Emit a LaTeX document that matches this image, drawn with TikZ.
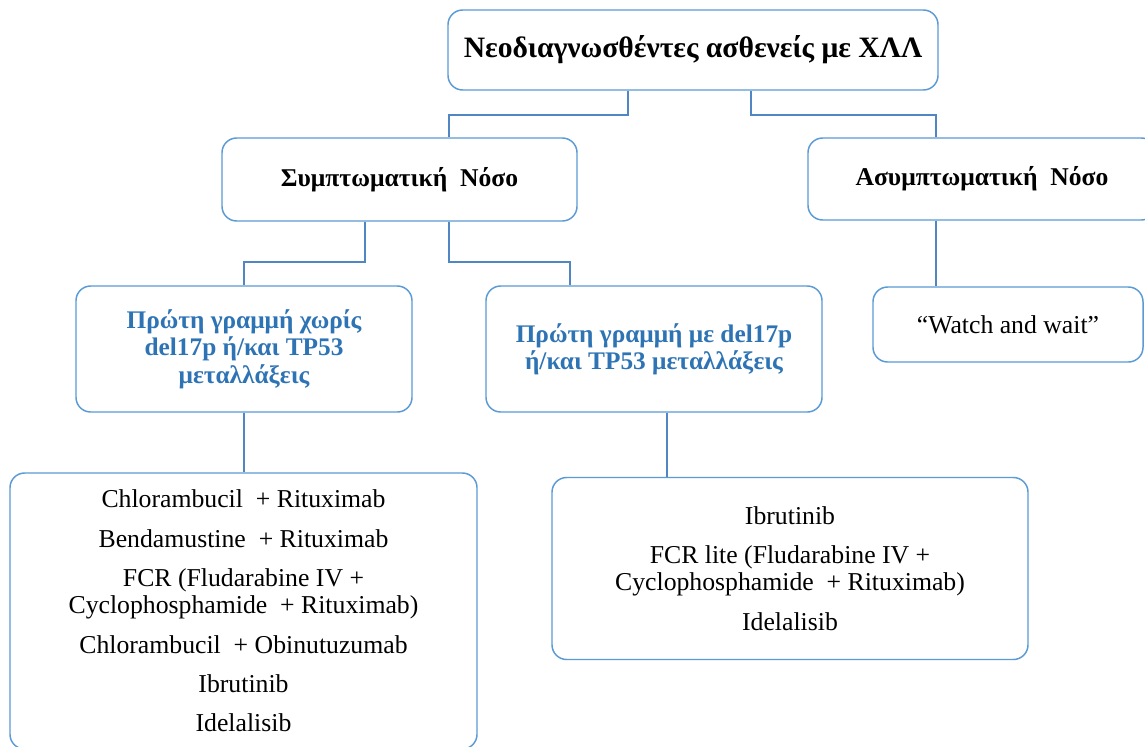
\documentclass[tikz,border=0pt]{standalone}
\usepackage{fontspec}
\setmainfont{Liberation Serif}
\definecolor{bord}{RGB}{91,155,213}
\definecolor{lnk}{RGB}{80,135,195}
\definecolor{btext}{RGB}{46,116,181}
\tikzset{
  box/.style={draw=bord, line width=1.1pt, rounded corners=11pt, fill=white, align=center, inner sep=0pt},
  conn/.style={draw=lnk, line width=1.1pt},
  head/.style={font=\bfseries\fontsize{22.2}{25}\selectfont},
  sub/.style={font=\bfseries\fontsize{19.2}{22}\selectfont},
  blue/.style={font=\bfseries\fontsize{19}{20.5}\selectfont, text=btext},
  plain/.style={font=\fontsize{19.3}{20.5}\selectfont}
}
\begin{document}
\begin{tikzpicture}[x=0.75pt,y=-0.75pt]
\clip (0,0) rectangle (1145,746);
\fill[white] (0,0) rectangle (1145,746);
\node[box, head, minimum width=367.5pt, minimum height=60pt] (top) at (693,50) {Νεοδιαγνωσθέντες ασθενείς με ΧΛΛ};
\node[box, sub, minimum width=266.25pt, minimum height=62.25pt] (symp) at (399.5,179.5) {Συμπτωματική\ \ Νόσο};
\node[box, sub, minimum width=261pt, minimum height=61.5pt] (asymp) at (982,179) {Ασυμπτωματική\ \ Νόσο};
\node[box, blue, minimum width=252pt, minimum height=94.5pt] (b4) at (244,349) {Πρώτη γραμμή χωρίς\\ del17p ή/και TP53\\ μεταλλάξεις};
\node[box, blue, minimum width=252pt, minimum height=94.5pt] (b5) at (654,349) {Πρώτη γραμμή με del17p\\ ή/και TP53 μεταλλάξεις};
\node[box, plain, minimum width=202.5pt, minimum height=56.25pt] (watch) at (1008,324.5) {“Watch and wait”};
\node[box, plain, minimum width=350.25pt, minimum height=207pt] (big) at (243.5,611) {Chlorambucil\ \ + Rituximab\\[9pt] Bendamustine\ \ + Rituximab\\[9pt] FCR (Fludarabine IV +\\ Cyclophosphamide\ \ + Rituximab)\\[9pt] Chlorambucil\ \ + Obinutuzumab\\[9pt] Ibrutinib\\[9pt] Idelalisib};
\node[box, plain, minimum width=357pt, minimum height=136.5pt] (lr) at (790,568.5) {Ibrutinib\\[9pt] FCR lite (Fludarabine IV +\\ Cyclophosphamide\ \ + Rituximab)\\[9pt] Idelalisib};
\coordinate (j1) at (628,115);
\coordinate (j2) at (751,115);
\coordinate (k1) at (449,115);
\coordinate (k2) at (936,115);
\coordinate (j3) at (365,262);
\coordinate (j4) at (449,262);
\coordinate (k4) at (570,262);
\coordinate (k5) at (667,440);
\draw[conn] (top.south -| j1) -- (j1) -| (symp.north -| k1);
\draw[conn] (top.south -| j2) -- (j2) -| (asymp.north -| k2);
\draw[conn] (symp.south -| j3) -- (j3) -| (b4.north);
\draw[conn] (symp.south -| j4) -- (j4) -| (b5.north -| k4);
\draw[conn] (asymp.south -| k2) -- (watch.north -| k2);
\draw[conn] (b4.south) -- (big.north -| b4.south);
\draw[conn] (b5.south -| k5) -- (lr.north -| k5);
\end{tikzpicture}
\end{document}
